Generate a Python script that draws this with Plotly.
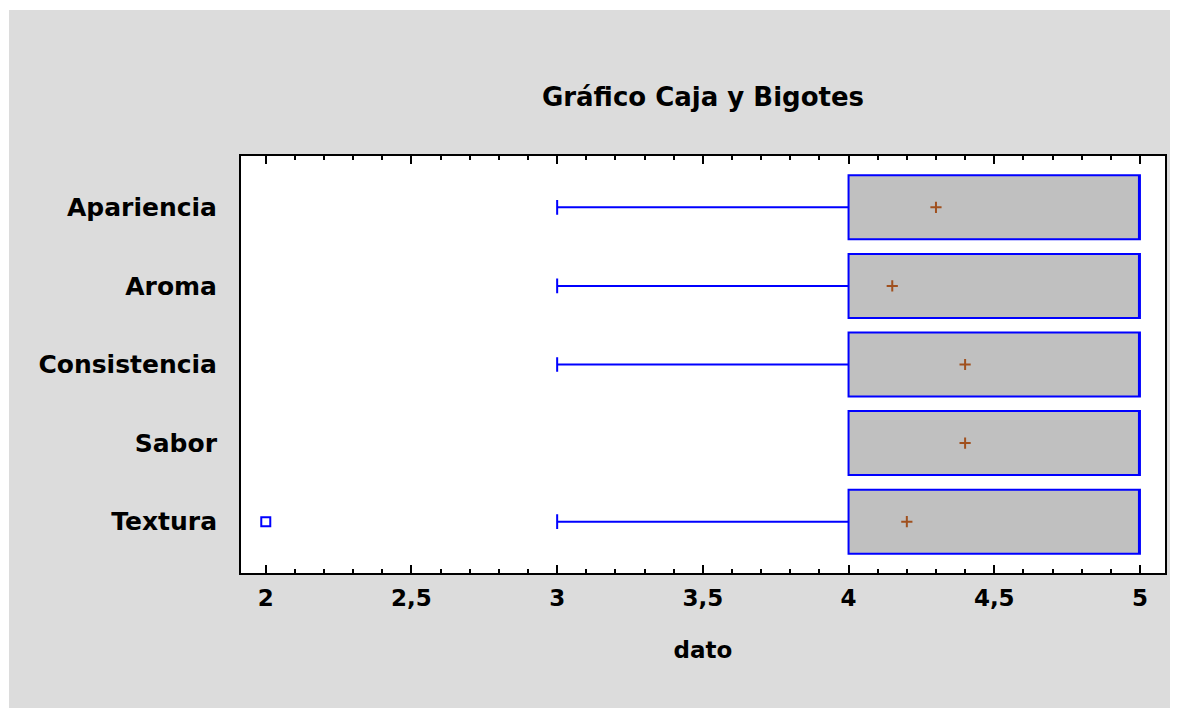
import plotly.graph_objects as go

categories = ["Apariencia", "Aroma", "Consistencia", "Sabor", "Textura"]
q1 = [4, 4, 4, 4, 4]
median = [5, 5, 5, 5, 5]
q3 = [5, 5, 5, 5, 5]
lowerfence = [3, 3, 3, 4, 3]
upperfence = [5, 5, 5, 5, 5]
means = [4.3, 4.15, 4.4, 4.4, 4.2]
outlier_cat = ["Textura"]
outlier_val = [2]
tick_vals = [2, 2.5, 3, 3.5, 4, 4.5, 5]
tick_text = ["2", "2,5", "3", "3,5", "4", "4,5", "5"]

FONT = "DejaVu Sans"
OFF = 8  # page body margin
W, H = 1178, 708
L, T = 241 - OFF, 156 - OFF
R = W - (1165 - OFF)
B = H - (573 - OFF)
pw, ph = W - L - R, H - T - B

fig = go.Figure()
fig.add_trace(go.Box(
    y=categories, q1=q1, median=median, q3=q3,
    lowerfence=lowerfence, upperfence=upperfence,
    orientation="h", fillcolor="#c0c0c0",
    line=dict(color="#0000ff", width=2),
    whiskerwidth=0.23, boxpoints=False, showlegend=False, hoverinfo="skip",
))
fig.add_trace(go.Scatter(
    x=means, y=categories, mode="markers", showlegend=False,
    marker=dict(symbol="cross-thin", size=8, color="#a0501e",
                line=dict(color="#a0501e", width=2)),
))
fig.add_trace(go.Scatter(
    x=outlier_val, y=outlier_cat, mode="markers", showlegend=False,
    marker=dict(symbol="square-open", size=9, color="#0000ff",
                line=dict(color="#0000ff", width=2)),
))

shapes = [
    dict(type="rect", xref="paper", yref="paper", x0=-1, x1=2,
         y0=(H - B - 2) / ph, y1=3, fillcolor="white", line=dict(width=0)),
    dict(type="rect", xref="paper", yref="paper", x0=-1, x1=(1 - L) / pw,
         y0=-1, y1=3, fillcolor="white", line=dict(width=0)),
]

fig.update_layout(
    width=W, height=H,
    margin=dict(l=L, r=R, t=T, b=B, pad=0),
    paper_bgcolor="#dcdcdc", plot_bgcolor="white",
    separators=", ",
    boxgap=0.186, boxgroupgap=0,
    font=dict(family=FONT, size=23, color="black", weight="bold"),
    title=dict(text="Gráfico Caja y Bigotes", x=0.5, xref="paper", xanchor="center",
               y=1 - (97 - OFF) / H, yref="container", yanchor="middle",
               font=dict(family=FONT, size=26, color="black", weight="bold")),
    shapes=shapes,
    xaxis=dict(range=[1.915, 5.086], tickvals=tick_vals, ticktext=tick_text,
               ticks="inside", ticklen=8, tickwidth=2, tickcolor="black",
               minor=dict(dtick=0.1, ticks="inside", ticklen=4, tickwidth=2, tickcolor="black"),
               mirror="ticks", showline=True, linewidth=2, linecolor="black",
               showgrid=False, zeroline=False, ticklabelstandoff=3,
               title=dict(text="dato", standoff=32,
                          font=dict(family=FONT, size=23, color="black", weight="bold")),
               tickfont=dict(family=FONT, size=23, color="black", weight="bold")),
    yaxis=dict(type="category", categoryorder="array", categoryarray=categories,
               range=[4.653, -0.653], showline=True, mirror=True, linewidth=2,
               linecolor="black", ticks="", showgrid=False, zeroline=False,
               ticklabelstandoff=17,
               tickfont=dict(family=FONT, size=25, color="black", weight="bold")),
)

fig.write_html("out.html")
